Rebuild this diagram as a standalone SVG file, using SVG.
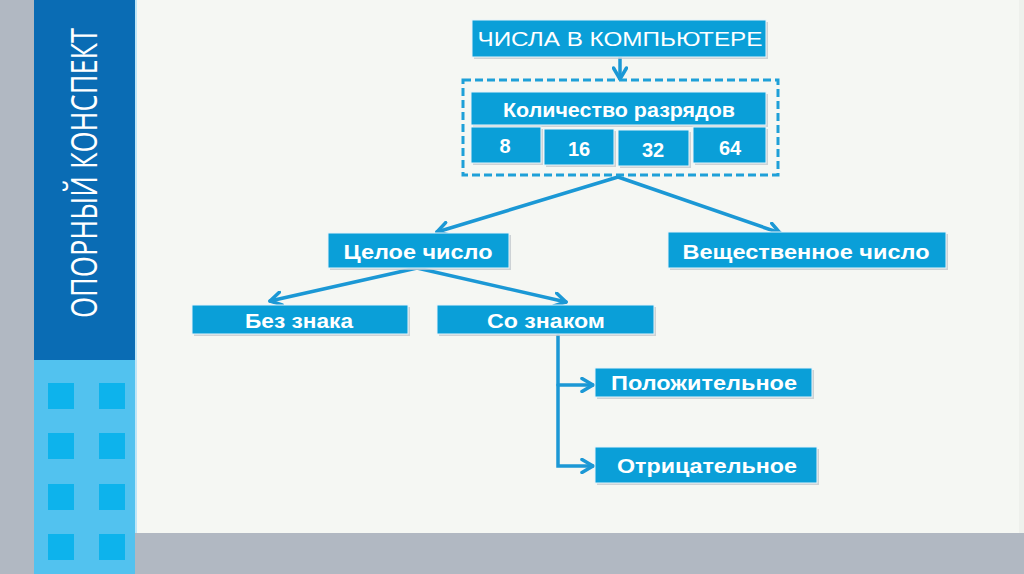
<svg xmlns="http://www.w3.org/2000/svg" width="1024" height="574" viewBox="0 0 1024 574">
<defs>
<style>
.box{fill:#0a9fd8;stroke:#e8f4fa;stroke-width:1}
.sh{fill:#c3c8cd;opacity:0.8}
.t{font-family:"Liberation Sans",Arial,sans-serif;font-weight:bold;font-size:21px;fill:#ffffff;text-anchor:middle}
.c{fill:none;stroke:#1b98d5;stroke-width:3.5;stroke-linecap:round}
.sq{fill:#0db3ec}
</style>
<marker id="ah" viewBox="-13 -8 15 16" refX="0" refY="0" markerWidth="15" markerHeight="16" markerUnits="userSpaceOnUse" orient="auto">
<path d="M-11,-6.5 L0,0 L-11,6.5" fill="none" stroke="#1b98d5" stroke-width="3.5" stroke-linecap="round" stroke-linejoin="round"/>
</marker>
</defs>
<rect x="0" y="0" width="1024" height="574" fill="#f5f7f3"/>
<rect x="1019" y="0" width="5" height="533" fill="#eef0ec"/>
<rect x="0" y="0" width="34" height="574" fill="#b1b8c2"/>
<rect x="135" y="533" width="889" height="41" fill="#b1b8c2"/>
<rect x="34" y="0" width="101" height="360" fill="#0a6cb4"/>
<rect x="34" y="360" width="101" height="214" fill="#52c2ef"/>
<rect x="135" y="0" width="2" height="533" fill="#bfe6f7"/>
<g id="squares">
<rect class="sq" x="48" y="383" width="26" height="26"/>
<rect class="sq" x="99" y="383" width="26" height="26"/>
<rect class="sq" x="48" y="433" width="26" height="26"/>
<rect class="sq" x="99" y="433" width="26" height="26"/>
<rect class="sq" x="48" y="484" width="26" height="26"/>
<rect class="sq" x="99" y="484" width="26" height="26"/>
<rect class="sq" x="48" y="534" width="26" height="26"/>
<rect class="sq" x="99" y="534" width="26" height="26"/>
</g>
<text transform="translate(97,173) rotate(-90)" font-family="'Open Sans','Liberation Sans',sans-serif" font-size="37" fill="#ffffff" text-anchor="middle" textLength="290" lengthAdjust="spacingAndGlyphs">ОПОРНЫЙ КОНСПЕКТ</text>

<g id="connectors">
<line class="c" x1="620" y1="57" x2="620" y2="79" marker-end="url(#ah)"/>
<line class="c" x1="618" y1="177" x2="437" y2="232" marker-end="url(#ah)"/>
<line class="c" x1="618" y1="177" x2="780" y2="233" marker-end="url(#ah)"/>
<line class="c" x1="417" y1="268" x2="270" y2="301" marker-end="url(#ah)"/>
<line class="c" x1="417" y1="268" x2="566" y2="302" marker-end="url(#ah)"/>
<polyline class="c" points="558,335 558,466 593,466" marker-end="url(#ah)"/>
<line class="c" x1="558" y1="385" x2="593" y2="385" marker-end="url(#ah)"/>
</g>

<g id="n-main">
<rect class="sh" x="474" y="22" width="294" height="37"/>
<rect class="box" x="472" y="20" width="294" height="37"/>
<text class="t" x="620" y="46" style="font-weight:normal;font-size:20px" textLength="285" lengthAdjust="spacingAndGlyphs">ЧИСЛА В КОМПЬЮТЕРЕ</text>
</g>

<g id="n-bits">
<rect x="463" y="80" width="315" height="95" fill="none" stroke="#1ea0d8" stroke-width="3" stroke-dasharray="8,4"/>
<g id="n-count">
<rect class="sh" x="473" y="94" width="295" height="33"/>
<rect class="box" x="471" y="92" width="295" height="33"/>
<text class="t" x="619" y="117" textLength="232" lengthAdjust="spacingAndGlyphs">Количество разрядов</text>
</g>
<g id="n-8">
<rect class="sh" x="473" y="129" width="70" height="36"/>
<rect class="box" x="471" y="127" width="70" height="36"/>
<text class="t" x="505" y="153" style="font-size:20px">8</text>
</g>
<g id="n-16">
<rect class="sh" x="546" y="131" width="70" height="36"/>
<rect class="box" x="544" y="129" width="70" height="36"/>
<text class="t" x="579" y="156" style="font-size:20px">16</text>
</g>
<g id="n-32">
<rect class="sh" x="620" y="132" width="71" height="36"/>
<rect class="box" x="618" y="130" width="71" height="36"/>
<text class="t" x="653" y="157" style="font-size:20px">32</text>
</g>
<g id="n-64">
<rect class="sh" x="695" y="129" width="73" height="36"/>
<rect class="box" x="693" y="127" width="73" height="36"/>
<text class="t" x="730" y="155" style="font-size:20px">64</text>
</g>
</g>

<g id="n-int">
<rect class="sh" x="330" y="235" width="181" height="35"/>
<rect class="box" x="328" y="233" width="181" height="35"/>
<text class="t" x="418" y="259" textLength="149" lengthAdjust="spacingAndGlyphs">Целое число</text>
</g>

<g id="n-real">
<rect class="sh" x="670" y="234" width="278" height="36"/>
<rect class="box" x="668" y="232" width="278" height="36"/>
<text class="t" x="806" y="259" textLength="247" lengthAdjust="spacingAndGlyphs">Вещественное число</text>
</g>

<g id="n-unsigned">
<rect class="sh" x="194" y="307" width="216" height="29"/>
<rect class="box" x="192" y="305" width="216" height="29"/>
<text class="t" x="299" y="328" textLength="108" lengthAdjust="spacingAndGlyphs">Без знака</text>
</g>

<g id="n-signed">
<rect class="sh" x="439" y="307" width="217" height="29"/>
<rect class="box" x="437" y="305" width="217" height="29"/>
<text class="t" x="546" y="328" textLength="118" lengthAdjust="spacingAndGlyphs">Со знаком</text>
</g>

<g id="n-pos">
<rect class="sh" x="597" y="370" width="217" height="29"/>
<rect class="box" x="595" y="368" width="217" height="29"/>
<text class="t" x="704" y="390" textLength="186" lengthAdjust="spacingAndGlyphs">Положительное</text>
</g>

<g id="n-neg">
<rect class="sh" x="597" y="449" width="222" height="36"/>
<rect class="box" x="595" y="447" width="222" height="36"/>
<text class="t" x="707" y="473" textLength="180" lengthAdjust="spacingAndGlyphs">Отрицательное</text>
</g>
</svg>
